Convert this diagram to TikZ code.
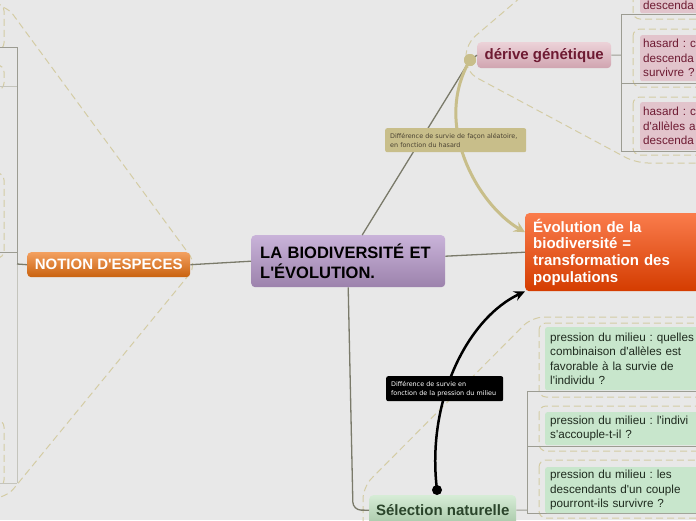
\documentclass[tikz,border=0pt]{standalone}
\usepackage{fontspec}
\setmainfont{Liberation Sans}[Ligatures=TeXOff]
\newfontfamily\notefont{DejaVu Sans}[Ligatures=TeXOff]
\usetikzlibrary{arrows.meta,calc}
\frenchspacing
\definecolor{bgC}{HTML}{E8E8E8}
\definecolor{connC}{HTML}{7A7A6A}
\definecolor{kidC}{HTML}{9C9C92}
\definecolor{kidLightC}{HTML}{C4C4BC}
\definecolor{dashC}{HTML}{D4CCA4}
\definecolor{cenTop}{HTML}{C9B3D9}
\definecolor{cenBot}{HTML}{9C82AC}
\definecolor{notTop}{HTML}{F3A060}
\definecolor{notBot}{HTML}{C9620E}
\definecolor{derTop}{HTML}{ECD2D8}
\definecolor{derBot}{HTML}{D0A4B0}
\definecolor{derText}{HTML}{6E1A32}
\definecolor{pinkC}{HTML}{E2C4CC}
\definecolor{evoTop}{HTML}{FA7C4C}
\definecolor{evoBot}{HTML}{D43C00}
\definecolor{selTop}{HTML}{D6ECD6}
\definecolor{selBot}{HTML}{A8C8A8}
\definecolor{selText}{HTML}{2B452B}
\definecolor{greenC}{HTML}{C8E6CC}
\definecolor{greenText}{HTML}{1E2A1E}
\definecolor{tanC}{HTML}{C8BE8A}
\definecolor{tanText}{HTML}{4A4232}
\tikzset{
  conn/.style={draw=connC, line width=1.3pt},
  kidline/.style={draw=kidC, line width=1pt},
  kidlight/.style={draw=kidLightC, line width=1pt},
  grpdash/.style={draw=dashC, line width=1pt, dash pattern=on 7pt off 4pt, rounded corners=12pt},
  kiddash/.style={draw=dashC, line width=1pt, dash pattern=on 7pt off 4pt, rounded corners=7pt},
  boxbase/.style={rounded corners=4pt, inner ysep=0pt, anchor=north west, align=left},
  centralbox/.style={boxbase, top color=cenTop, bottom color=cenBot, text=black,
     font=\fontsize{16.5}{19.5}\selectfont\bfseries, inner xsep=9pt, text width=176pt,
     minimum height=52pt},
  notionbox/.style={boxbase, top color=notTop, bottom color=notBot, text=white,
     font=\fontsize{15}{18}\selectfont\bfseries, align=center, minimum width=163pt, minimum height=25pt, inner xsep=0pt},
  derivebox/.style={boxbase, top color=derTop, bottom color=derBot, text=derText,
     font=\fontsize{15}{18}\selectfont\bfseries, align=center, minimum width=134pt, minimum height=26pt, inner xsep=0pt},
  evobox/.style={boxbase, top color=evoTop, bottom color=evoBot, text=white,
     font=\fontsize{15}{16.7}\selectfont\bfseries, inner xsep=8pt, text width=170pt, minimum height=78pt},
  selbox/.style={boxbase, top color=selTop, bottom color=selBot, text=selText,
     font=\fontsize{15}{18}\selectfont\bfseries, align=center, minimum width=147pt, minimum height=30pt, inner xsep=0pt},
  pinkbox/.style={boxbase, fill=pinkC, text=derText, font=\fontsize{11.7}{14.4}\selectfont,
     inner xsep=3pt, text width=80pt, rounded corners=2pt},
  greenbox/.style={boxbase, fill=greenC, text=greenText, font=\fontsize{11.7}{14.4}\selectfont,
     inner xsep=5pt, text width=180pt, rounded corners=2pt},
  tannote/.style={boxbase, fill=tanC, text=tanText, font=\notefont\fontsize{6.4}{9}\selectfont,
     inner xsep=5pt, text width=131pt, minimum height=24pt, rounded corners=2pt},
  blacknote/.style={boxbase, fill=black, text=white, font=\notefont\fontsize{6.4}{9}\selectfont,
     inner xsep=5pt, text width=107pt, minimum height=25pt, rounded corners=2pt},
  knobstyle/.style={circle, fill=tanC, minimum size=12pt, inner sep=0pt},
  dotstyle/.style={circle, fill=black, minimum size=10pt, inner sep=0pt},
  tanarrow/.style={draw=tanC, line width=3pt, -{Stealth[length=11pt,width=11pt,inset=4pt]}},
  blackarrow/.style={draw=black, line width=2.5pt, -{Stealth[length=11pt,width=10pt,inset=4pt]}}
}
\begin{document}
\begin{tikzpicture}[x=1pt,y=-1pt]
\useasboundingbox (0,0) rectangle (696,520);
\fill[bgC] (0,0) rectangle (696,520);
\begin{scope}
\clip (0,0) rectangle (696,520);

% ---- group boundaries (dashed)
\draw[grpdash] (-5,5) -- (6,5) -- (197,265) -- (6,498) -- (-5,498);
\draw[grpdash] (521,-3) -- (466,44) -- (466,72) -- (636,163) -- (705,163);
\draw[grpdash] (705,317) -- (532,317) -- (363,487) -- (363,530);

% ---- left children (cut at the edge)
\draw[kiddash] (-60,4) rectangle (4,50);
\draw[kiddash] (-60,65) rectangle (4,90);
\draw[kiddash] (-60,173) rectangle (4,258);
\draw[kiddash] (-60,420) rectangle (4,487);

% ---- right children dashed frames
\draw[kiddash] (633,-12) rectangle (710,19);
\draw[kiddash] (633,29) rectangle (710,87);
\draw[kiddash] (633,97) rectangle (710,155);
\draw[kiddash] (539,323) rectangle (710,397);
\draw[kiddash] (539,406) rectangle (710,451);
\draw[kiddash] (539,460) rectangle (710,518);

% ---- main nodes
\node[centralbox] (central) at (251,235) {LA BIODIVERSITÉ ET\\L'ÉVOLUTION.};
\node[notionbox] (notion) at (27,252) {NOTION D'ESPECES};
\node[derivebox] (derive) at (477,42) {dérive génétique};
\node[evobox] (evo) at (525,213) {Évolution de la\\biodiversité =\\transformation des\\populations};
\node[selbox] (sel) at (369,495) {Sélection naturelle};

% ---- coordinates of the branch lines
\coordinate (lvA) at (17,47);
\coordinate (lvB) at (17,86);
\coordinate (lvC) at (17,252);
\coordinate (lvM) at (17,264);
\coordinate (lvD) at (17,483);
\coordinate (lxA) at (-2,47);
\coordinate (lxB) at (-2,86);
\coordinate (lxC) at (-2,252);
\coordinate (lxD) at (-2,483);
\coordinate (dvM) at (621,55);
\coordinate (dvA) at (621,14);
\coordinate (dvB) at (621,83);
\coordinate (dvC) at (621,151);
\coordinate (dxA) at (705,14);
\coordinate (dxB) at (705,83);
\coordinate (dxC) at (705,151);
\coordinate (svM) at (527,510);
\coordinate (svA) at (527,391);
\coordinate (svB) at (527,446);
\coordinate (svC) at (527,513);
\coordinate (sxA) at (705,391);
\coordinate (sxB) at (705,446);
\coordinate (sxC) at (705,513);
\coordinate (selc) at (353,510);

% ---- branch lines
\draw[kidline] (lvA) -- (lvM);
\draw[kidlight] (lvM) -- (lvD);
\draw[kidline] (lxA) -- (lvA);
\draw[kidlight] (lxB) -- (lvB);
\draw[kidline] (lxC) -- (lvC);
\draw[kidlight] (lxD) -- (lvD);
\draw[conn] (lvM) -- (notion.west);

\draw[kidline] (derive.east) -- (dvM);
\draw[kidline] (dvA) -- (dvC);
\draw[kidline] (dvA) -- (dxA);
\draw[kidline] (dvB) -- (dxB);
\draw[kidline] (dvC) -- (dxC);

\draw[kidline] (sel.east) -- (svM);
\draw[kidline] (svA) -- (svC);
\draw[kidline] (svA) -- (sxA);
\draw[kidline] (svB) -- (sxB);
\draw[kidline] (svC) -- (sxC);

% ---- child nodes (over their branch lines)
\node[pinkbox, minimum height=16pt] (p1) at (640,-3) {descenda};
\node[pinkbox, minimum height=46pt] (p2) at (640,35) {hasard : c\\descenda\\survivre ?};
\node[pinkbox, minimum height=48pt] (p3) at (640,102) {hasard : c\\d'allèles a\\descenda};
\node[greenbox, minimum height=63pt] (g1) at (545,327) {pression du milieu : quelles\\combinaison d'allèles est\\favorable à la survie de\\l'individu ?};
\node[greenbox, minimum height=33pt] (g2) at (545,412) {pression du milieu : l'indivi\\s'accouple-t-il ?};
\node[greenbox, minimum height=46pt] (g3) at (545,467) {pression du milieu : les\\descendants d'un couple\\pourront-ils survivre ?};

% ---- main connectors
\node[knobstyle] (knob) at (470,60) {};
\draw[conn] (notion.east) -- (central.west);
\draw[conn] ([yshift=5pt]central.east) -- (evo.west);
\draw[conn] ([xshift=14pt]central.north) -- (knob.center);
\draw[conn] (knob.center) -- (derive.west);
\draw[conn, rounded corners=8pt] (central.south) -- (selc) -- (sel.west);

% ---- relationship arrows
\draw[tanarrow] (knob.center) .. controls (432,125) and (478,205) .. ($(evo.west)+(0,-20)$);
\node[knobstyle] (knobtop) at (knob.center) {};
\node[dotstyle] (dot) at (437,490) {};
\draw[blackarrow] (dot.center) .. controls (426,400) and (468,318) .. (evo.south west);

% ---- notes
\node[tannote] (tnote) at (385,128) {Différence de survie de façon aléatoire,\\en fonction du hasard};
\node[blacknote] (bnote) at (386,376) {Différence de survie en\\fonction de la pression du milieu};

\end{scope}
\end{tikzpicture}
\end{document}
